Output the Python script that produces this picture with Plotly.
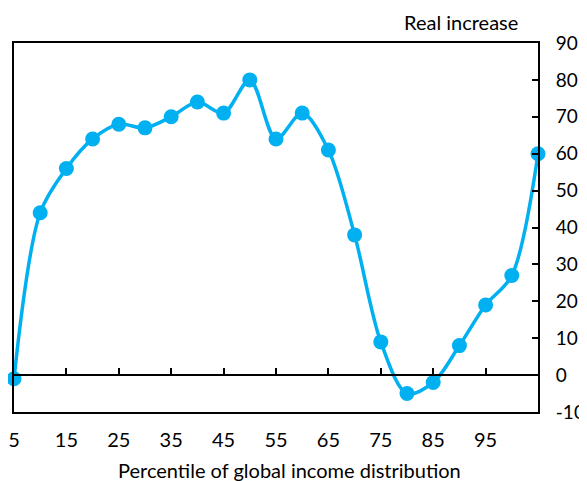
import plotly.graph_objects as go

percentiles = ["5", "10", "15", "20", "25", "30", "35", "40", "45", "50",
               "55", "60", "65", "70", "75", "80", "85", "90", "95", "99", "100"]
real_increase = [-1, 44, 56, 64, 68, 67, 70, 74, 71, 80,
                 64, 71, 61, 38, 9, -5, -2, 8, 19, 27, 60]
tick_labels = ["5", "15", "25", "35", "45", "55", "65", "75", "85", "95"]
y_ticks = [-10, 0, 10, 20, 30, 40, 50, 60, 70, 80, 90]
y_tick_text = ["-10", "0", "10", "20", "30", "40", "50", "60", "70", "80", "90"]

FONT = "Lato"
BLUE = "#00B0F0"
FS = 20

fig = go.Figure()
fig.add_trace(go.Scatter(
    x=percentiles, y=real_increase, mode="lines+markers",
    line=dict(color=BLUE, width=3.5, shape="spline", smoothing=0.9),
    marker=dict(color=BLUE, size=15),
    cliponaxis=False, showlegend=False, xaxis="x", yaxis="y",
))
# invisible trace to drive the zero-line axis with ticks
fig.add_trace(go.Scatter(
    x=percentiles, y=real_increase, mode="lines", opacity=0,
    showlegend=False, hoverinfo="skip", xaxis="x2", yaxis="y",
))

# page body has an 8px margin, so the figure is shrunk and margins shifted
fig.update_layout(
    width=579, height=473,
    margin=dict(l=6, r=49, t=35, b=69, autoexpand=False),
    paper_bgcolor="white", plot_bgcolor="white",
    font=dict(family=FONT, size=FS, color="black"),
    xaxis=dict(
        type="category", categoryorder="array", categoryarray=percentiles,
        range=[0, 20], tickmode="array", tickvals=tick_labels, ticktext=tick_labels,
        ticks="", showline=True, linecolor="black", linewidth=2, mirror=True,
        showgrid=False, zeroline=False, ticklabelstandoff=9, automargin=False,
        tickfont=dict(size=FS),
    ),
    xaxis2=dict(
        type="category", categoryorder="array", categoryarray=percentiles,
        range=[0, 20], overlaying="x", anchor="free", position=0.1,
        tickmode="array", tickvals=tick_labels, ticks="inside", ticklen=6,
        tickwidth=2, tickcolor="black", showticklabels=False,
        showline=True, linecolor="black", linewidth=2, showgrid=False,
        zeroline=False, automargin=False,
    ),
    yaxis=dict(
        side="right", range=[-10, 90], tickmode="array", tickvals=y_ticks,
        ticktext=y_tick_text,
        ticks="inside", ticklen=6, tickwidth=2, tickcolor="black",
        showline=True, linecolor="black", linewidth=2, mirror=True,
        showgrid=False, zeroline=False, tickfont=dict(size=19),
        ticklabelstandoff=12, automargin=False,
    ),
    annotations=[
        dict(text="Real increase", xref="paper", yref="paper", x=0.9656, y=1.0,
             xanchor="right", yanchor="middle", yshift=21, showarrow=False,
             font=dict(size=FS, family=FONT)),
        dict(text="Percentile of global income distribution", xref="paper",
             yref="paper", x=0.525, y=0.0, xanchor="center", yanchor="middle",
             yshift=-58, showarrow=False, font=dict(size=FS, family=FONT)),
    ],
)

fig.write_html("out.html")
